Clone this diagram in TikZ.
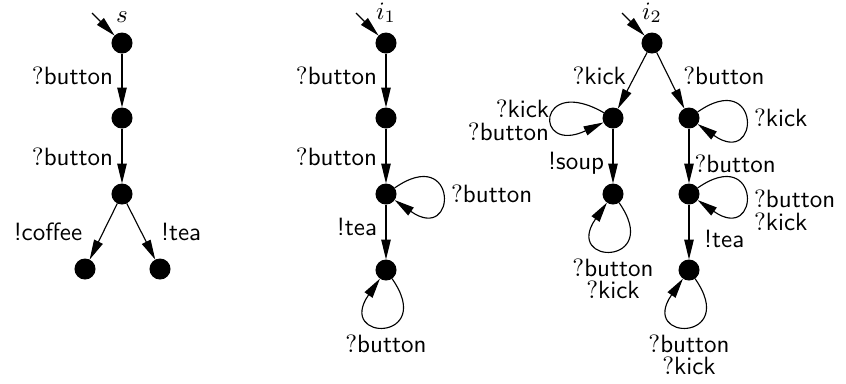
\documentclass[tikz,border=0pt]{standalone}
\usetikzlibrary{arrows.meta}
\newcommand{\inp}[1]{$?$\textsf{#1}}
\newcommand{\outp}[1]{\textsf{!#1}}
\tikzset{
  st/.style={circle,fill=black,draw=black,inner sep=0pt,minimum size=8pt},
  tr/.style={line width=0.45pt,-{Triangle[length=8pt,width=3.8pt]}},
  lp/.style={tr,distance=31pt},
  initlbl/.style={label={[label distance=0.3pt]above:#1}}
}
\begin{document}
\begin{tikzpicture}[x=0.4pt,y=0.4pt]
  \useasboundingbox (0,0) rectangle (846,-383);

  % specification s
  \node[st,initlbl={$s$}] (s0) at (122,-43) {};
  \node[st] (s1) at (122,-118) {};
  \node[st] (s2) at (122,-194) {};
  \node[st] (s3) at (85,-269) {};
  \node[st] (s4) at (160,-269) {};
  \coordinate (s0in) at (92,-13);
  \draw[tr] (s0in) -- (s0);
  \draw[tr] (s0) -- node[left,pos=0.42] {\inp{button}} (s1);
  \draw[tr] (s1) -- node[left,pos=0.52] {\inp{button}} (s2);
  \draw[tr] (s2) -- node[left=5pt] {\outp{coffee}} (s3);
  \draw[tr] (s2) -- node[right=4.5pt] {\outp{tea}} (s4);

  % implementation i1
  \node[st,initlbl={$i_1$}] (a0) at (386,-43) {};
  \node[st] (a1) at (386,-118) {};
  \node[st] (a2) at (386,-194) {};
  \node[st] (a3) at (386,-270) {};
  \coordinate (a0in) at (356,-13);
  \draw[tr] (a0in) -- (a0);
  \draw[tr] (a0) -- node[left,pos=0.42] {\inp{button}} (a1);
  \draw[tr] (a1) -- node[left,pos=0.52] {\inp{button}} (a2);
  \draw[tr] (a2) -- node[left,pos=0.4] {\outp{tea}} (a3);
  \draw[lp] (a2) to[out=35,in=-35] node[right] {\inp{button}} (a2);
  \draw[lp] (a3) to[out=-55,in=-125] node[below] {\inp{button}} (a3);

  % implementation i2
  \node[st,initlbl={$i_2$}] (b0) at (652,-43) {};
  \node[st] (b1) at (613,-118) {};
  \node[st] (b2) at (689,-118) {};
  \node[st] (b3) at (613,-194) {};
  \node[st] (b4) at (689,-194) {};
  \node[st] (b5) at (689,-270) {};
  \coordinate (b0in) at (622,-13);
  \draw[tr] (b0in) -- (b0);
  \draw[tr] (b0) -- node[left,pos=0.42] {\inp{kick}} (b1);
  \draw[tr] (b0) -- node[right=2.5pt,pos=0.42] {\inp{button}} (b2);
  \draw[tr] (b1) -- node[left,pos=0.64] {\outp{soup}} (b3);
  \draw[tr] (b2) -- node[right,inner sep=2pt,pos=0.64] {\inp{button}} (b4);
  \draw[tr] (b4) -- node[right=2.5pt,pos=0.62] {\outp{tea}} (b5);
  \draw[lp] (b1) to[out=150,in=205] node[left,inner sep=1pt,yshift=-2pt,align=right] {\inp{kick}\\[-3pt]\inp{button}} (b1);
  \draw[lp] (b2) to[out=35,in=-35] node[right] {\inp{kick}} (b2);
  \draw[lp] (b3) to[out=-55,in=-125] node[below,align=center] {\inp{button}\\[-3pt]\inp{kick}} (b3);
  \draw[lp] (b4) to[out=35,in=-35] node[right,yshift=-6.5pt,align=left] {\inp{button}\\[-3pt]\inp{kick}} (b4);
  \draw[lp] (b5) to[out=-55,in=-125] node[below,align=center] {\inp{button}\\[-3pt]\inp{kick}} (b5);
\end{tikzpicture}
\end{document}
